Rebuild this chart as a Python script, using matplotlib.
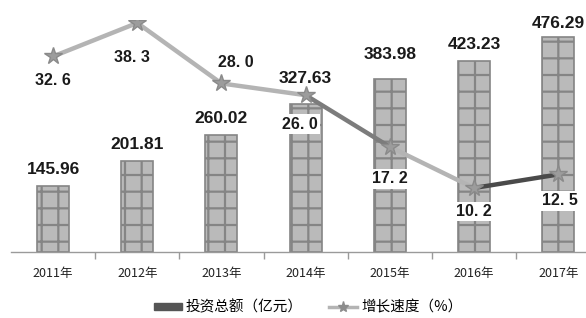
import numpy as np
import matplotlib
matplotlib.use("Agg")
import matplotlib.pyplot as plt
from matplotlib.patches import Patch
from matplotlib.lines import Line2D

# ── Data ──────────────────────────────────────────────────────────────────────
years = ["2011年", "2012年", "2013年", "2014年", "2015年", "2016年", "2017年"]
invest = [145.96, 201.81, 260.02, 327.63, 383.98, 423.23, 476.29]
growth = [32.6, 38.3, 28.0, 26.0, 17.2, 10.2, 12.5]
growth_txt = ["32. 6", "38. 3", "28. 0", "26. 0", "17. 2", "10. 2", "12. 5"]

# label offsets (points)
bar_off = [12, 12, 12, 19, 18, 12, 10]
g_off = [(0, -17), (-4, -25), (10, 15), (-4, -21), (0, -23), (0, -17), (1, -19)]
seg_colors = ["#b4b4b4", "#b4b4b4", "#b4b4b4", "#7c7c7c", "#b4b4b4", "#4a4a4a"]

CJK = ["Noto Sans CJK SC", "DejaVu Sans"]
NUM = ["Liberation Sans", "DejaVu Sans"]

# ── Plot ──────────────────────────────────────────────────────────────────────
plt.rcParams["hatch.color"] = "#6a6a6a"
plt.rcParams["hatch.linewidth"] = 1.6

fig = plt.figure(figsize=(5.86, 3.18), dpi=100)
ax = fig.add_axes([11 / 586, 66 / 318, 575 / 586, 232 / 318])
x = np.arange(len(years))

ax.bar(x, invest, width=0.38, color="#bababa", edgecolor="#858585",
       linewidth=1.2, hatch="+", zorder=2)
for xi, v, off in zip(x, invest, bar_off):
    ax.annotate(f"{v:.2f}", (xi, v), xytext=(0, off), textcoords="offset points",
                ha="center", va="center", fontsize=12.5, fontweight="bold",
                family=NUM, color="#1a1a1a", zorder=6)

ax.set_xlim(-0.5, 6.33)
ax.set_ylim(0, 515)
for s in ["top", "right", "left"]:
    ax.spines[s].set_visible(False)
ax.spines["bottom"].set_color("#9a9a9a")
ax.spines["bottom"].set_linewidth(1.0)
ax.set_yticks([])
ax.set_xticks(x)
ax.set_xticklabels(years, family=CJK, fontsize=9, color="#222222")
ax.tick_params(axis="x", which="major", length=0, pad=11)
ax.set_xticks(x[:-1] + 0.5, minor=True)
ax.tick_params(axis="x", which="minor", length=5, color="#9a9a9a", width=1)

ax2 = ax.twinx()
ax2.set_ylim(-0.7, 38.8)
ax2.set_yticks([])
for s in ax2.spines.values():
    s.set_visible(False)
for i in range(len(growth) - 1):
    ax2.plot(x[i:i + 2], growth[i:i + 2], color=seg_colors[i], lw=3.2,
             solid_capstyle="round", zorder=3)
ax2.plot(x, growth, ls="none", marker="*", ms=13, color="#9c9c9c",
         markeredgecolor="#8a8a8a", zorder=4)
for xi, v, t, off in zip(x, growth, growth_txt, g_off):
    ax2.annotate(t, (xi, v), xytext=off, textcoords="offset points",
                 ha="center", va="center", fontsize=11.5, fontweight="bold",
                 family=NUM, color="#1a1a1a", zorder=6,
                 bbox=dict(boxstyle="square,pad=0.15", fc="white", ec="none"))

handles = [
    Patch(facecolor="#555555", edgecolor="#555555"),
    Line2D([0], [0], color="#b4b4b4", lw=2.5, marker="*", ms=8,
           markerfacecolor="#8c8c8c", markeredgecolor="#8c8c8c"),
]
fig.legend(handles, ["投资总额（亿元）", "增长速度（%）"], loc="center",
           bbox_to_anchor=(0.526, 0.033), ncol=2, frameon=False,
           prop={"family": CJK, "size": 10.5}, handlelength=1.9,
           handleheight=0.35, columnspacing=1.8, handletextpad=0.3)

plt.savefig("out.png", dpi=100)
plt.close()
